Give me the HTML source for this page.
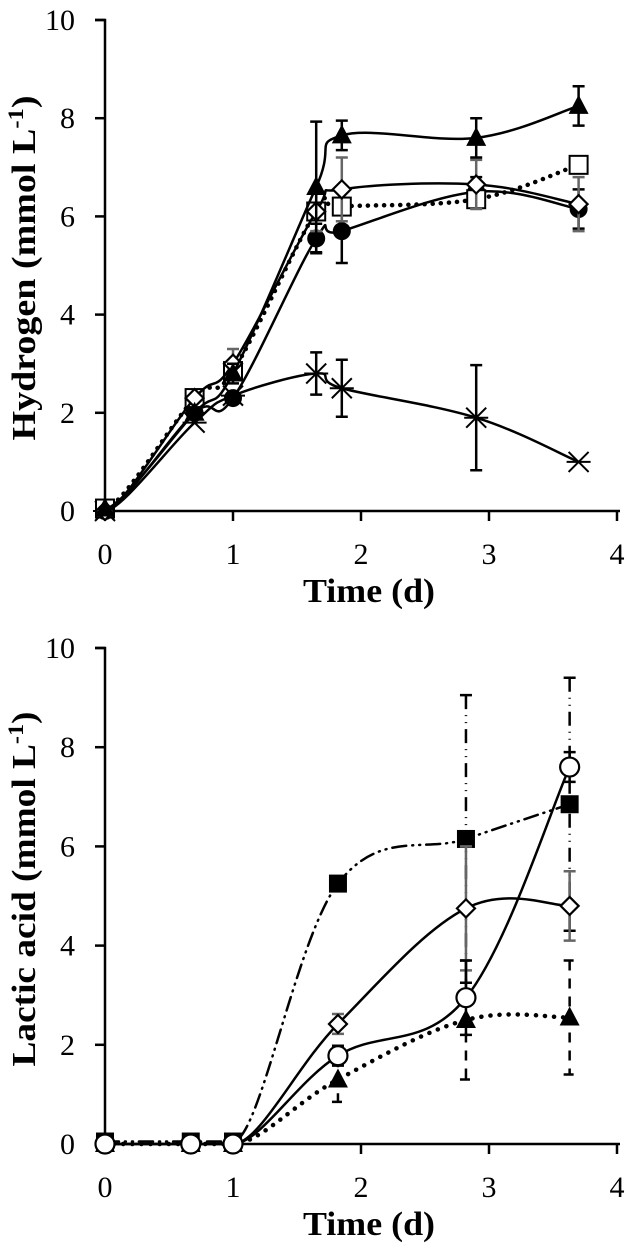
<!DOCTYPE html>
<html><head><meta charset="utf-8"><style>
html,body{margin:0;padding:0;background:#fff;}
svg text{font-family:"Liberation Serif",serif;fill:#000;}
</style></head><body>
<svg id="s" width="629" height="1246" viewBox="0 0 629 1246"></svg>
<script>
// ---- Top chart data (Hydrogen) ----
const hX = [0, 0.7, 1, 1.65, 1.85, 2.9, 3.7];
const hTri = [0.05, 2.0, 2.8, 6.6, 7.65, 7.6, 8.25];
const hSq = [0.05, 2.3, 2.85, 6.1, 6.2, 6.35, 7.05];
const hDia = [0.0, 2.3, 3.0, 6.1, 6.55, 6.65, 6.25];
const hCir = [0.0, 2.0, 2.3, 5.55, 5.7, 6.5, 6.15];
const hStar = [0.0, 1.8, 2.35, 2.8, 2.5, 1.9, 1.0];
const hStarErr = [0, 0.1, 0.1, 0.43, 0.58, 1.07, 0.05];
const hTriErr = [0, 0.1, 0.2, 1.33, 0.3, 0.4, 0.4];
const hCirErr = [0, 0.1, 0.1, 0.3, 0.65, 0.3, 0.4];
const hDiaErr = [0, 0.1, 0.3, 0.4, 0.65, 0.5, 0.55];
// ---- Bottom chart data (Lactic acid) ----
const lX = [0, 0.67, 1, 1.82, 2.82, 3.63];
const lSq = [0.05, 0.05, 0.05, 5.25, 6.15, 6.85];
const lDia = [0, 0, 0, 2.42, 4.75, 4.8];
const lCir = [0, 0, 0, 1.78, 2.95, 7.6];
const lTri = [0, 0, 0, 1.3, 2.5, 2.55];
const lSqErr = [0, 0, 0, 0.1, 2.9, 2.55];
const lDiaErr = [0, 0, 0, 0.2, 1.25, 0.7];
const lCirErr = [0, 0, 0, 0.2, 0.75, 0.3];
const lTriErr = [0, 0, 0, 0.45, 1.2, 1.15];
const xTicks = ["0","1","2","3","4"];
const yTicks = ["0","2","4","6","8","10"];

const NS="http://www.w3.org/2000/svg";
const svg=document.getElementById('s');
function mk(tag,attrs,parent){const e=document.createElementNS(NS,tag);for(const k in attrs)e.setAttribute(k,attrs[k]);(parent||svg).appendChild(e);return e;}

function chart(top,bottom,title,nameP,titleLen,titleCy){
  const x0=105,x1=617;
  const sx=v=>x0+(x1-x0)*v/4, sy=v=>bottom-(bottom-top)*v/10;
  const g=mk('g',{});
  
  
  const ax=mk('path',{d:`M${x0-10} ${top}H${x0}V${bottom}H${x1+3}`,stroke:'#000','stroke-width':2.5,fill:'none'},g);
  
  
  yTicks.forEach((t,i)=>{const y=sy(i*2);
    mk('line',{x1:x0-10,x2:x0,y1:y,y2:y,stroke:'#000','stroke-width':2.5},g);
    const tx=mk('text',{x:75,y:y+10,'text-anchor':'end','font-size':30},g);tx.textContent=t;
    
    });
  xTicks.forEach((t,i)=>{const x=sx(i);
    mk('line',{x1:x,x2:x,y1:bottom,y2:bottom+10,stroke:'#000','stroke-width':2.5},g);
    const tx=mk('text',{x:x,y:bottom+53,'text-anchor':'middle','font-size':30},g);tx.textContent=t;
    
    });
  const xt=mk('text',{x:303,y:bottom+91,'font-size':34,'font-weight':'bold',textLength:132,lengthAdjust:'spacingAndGlyphs'},g);
  xt.textContent='Time (d)';
  
  
  const yt=mk('text',{x:0,y:0,'text-anchor':'middle','font-size':34,'font-weight':'bold',textLength:titleLen,lengthAdjust:'spacingAndGlyphs',transform:`translate(35 ${titleCy}) rotate(-90)`},g);
  yt.innerHTML=title+' (mmol L<tspan dy="-12" font-size="22">-1</tspan><tspan dy="12">)</tspan>';
  
  
  return {g,sx,sy};
}
function spline(pts){let d=`M${pts[0][0]} ${pts[0][1]}`;
  for(let i=0;i<pts.length-1;i++){const p0=pts[i-1]||pts[i],p1=pts[i],p2=pts[i+1],p3=pts[i+2]||p2;
    const t=0.18;
    const c1=[p1[0]+(p2[0]-p0[0])*t,p1[1]+(p2[1]-p0[1])*t],c2=[p2[0]-(p3[0]-p1[0])*t,p2[1]-(p3[1]-p1[1])*t];
    if(Math.abs(p1[1]-p2[1])<1){c1[1]=p1[1];c2[1]=p2[1];}
    if(Math.abs(p0[1]-p1[1])<1){c1[1]=p1[1];}
    d+=` C${c1[0]} ${c1[1]} ${c2[0]} ${c2[1]} ${p2[0]} ${p2[1]}`;}
  return d;}
function series(c,xs,ys,errs,marker,dash,name,errDash,errColor,lw){
  const g=mk('g',{},c.g);
  
  
  xs.forEach((x,i)=>{if(errs[i]<0.15)return;const X=c.sx(x),a=c.sy(ys[i]+errs[i]),b=c.sy(Math.max(0,ys[i]-errs[i]));
    mk('path',{d:`M${X} ${a}V${b}M${X-6} ${a}h12M${X-6} ${b}h12`,stroke:errColor||'#000','stroke-width':2.5,fill:'none','stroke-dasharray':errDash||'none'},g);});
  const pts=xs.map((x,i)=>[c.sx(x),c.sy(ys[i])]);
  mk('path',{d:spline(pts),stroke:'#000','stroke-width':lw||2.5,fill:'none','stroke-dasharray':dash||'none','stroke-linecap':'round'},g);
  pts.forEach(([X,Y])=>{let m;
    if(marker==='tri')m=mk('path',{d:`M${X} ${Y-11}L${X+10} ${Y+8}H${X-10}Z`,fill:'#000'},g);
    else if(marker==='sq')m=mk('rect',{x:X-9,y:Y-9,width:18,height:18,fill:'#fff',stroke:'#000','stroke-width':2},g);
    else if(marker==='sqf')m=mk('rect',{x:X-9,y:Y-9,width:18,height:18,fill:'#000'},g);
    else if(marker==='dia')m=mk('path',{d:`M${X} ${Y-9}L${X+9} ${Y}L${X} ${Y+9}L${X-9} ${Y}Z`,fill:'#fff',stroke:'#000','stroke-width':2.2},g);
    else if(marker==='cirf')m=mk('circle',{cx:X,cy:Y,r:9,fill:'#000'},g);
    else if(marker==='cir')m=mk('circle',{cx:X,cy:Y,r:9.5,fill:'#fff',stroke:'#000','stroke-width':2.2},g);
    else if(marker==='star')m=mk('path',{d:`M${X-10} ${Y-10}L${X+10} ${Y+10}M${X+10} ${Y-10}L${X-10} ${Y+10}M${X-12} ${Y}H${X+12}`,stroke:'#000','stroke-width':2,fill:'none'},g);
    
    });
}
const c1=chart(20,511,'Hydrogen','hydrogen',345,268);
series(c1,hX,hStar,hStarErr,'star','', 'hydrogen-star-series');
series(c1,hX,hCir,hCirErr,'cirf','', 'hydrogen-circle-series');
series(c1,hX,hSq,hDiaErr.map(v=>0),'sq','0.1 8','hydrogen-square-series',null,null,4.5);
series(c1,hX,hDia,hDiaErr,'dia','', 'hydrogen-diamond-series',null,'#666');
series(c1,hX,hTri,hTriErr,'tri','', 'hydrogen-triangle-series');
const c2=chart(648,1144,'Lactic acid','lactic',355,889);
series(c2,lX,lTri,lTriErr,'tri','0.1 9','lactic-triangle-series','10 8',null,4.5);
series(c2,lX,lSq,lSqErr,'sqf','14 6 1 6 1 6','lactic-square-series','14 6 1 6 1 6');
series(c2,lX,lDia,lDiaErr,'dia','', 'lactic-diamond-series',null,'#666');
series(c2,lX,lCir,lCirErr,'cir','', 'lactic-circle-series');
</script>
</body></html>
